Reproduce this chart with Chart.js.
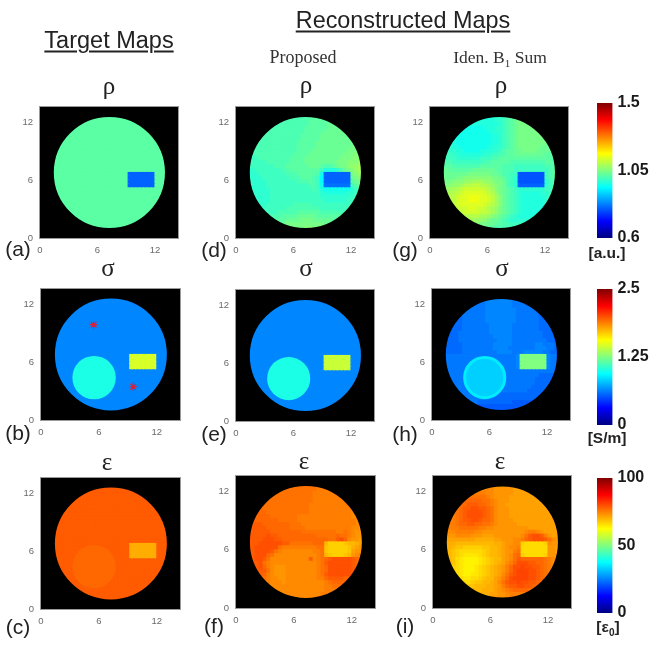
<!DOCTYPE html>
<html><head><meta charset="utf-8">
<script src="https://cdn.jsdelivr.net/npm/chart.js@4/dist/chart.umd.js"></script>
<style>
html,body{margin:0;padding:0;background:#fff;width:656px;height:648px;overflow:hidden}
canvas{position:absolute;filter:blur(.7px)}
canvas.bar{filter:blur(.45px)}
.t{position:absolute;transform:translate(-50%,-50%);white-space:nowrap;color:#222;font-family:"Liberation Sans",sans-serif;filter:blur(.3px)}
</style></head><body>
<script>
const tickValues=[0,6,12];
const LEVELS='0123456789abcdefghijklmnopqrstuvwxyz';
const rhoRange=[0.6,1.5], sigmaRange=[0,2.5], epsRange=[0,100];
// value of level 0 and level z per quantity
const rhoLevels=[0.735,1.185], sigmaLevels=[0.25,1.5], epsLevels=[50,90];
const rhoBarTicks=[0.6,1.05,1.5], sigmaBarTicks=[0,1.25,2.5], epsBarTicks=[0,50,100];
const redStars=[{x:5.45,y:9.9},{x:9.55,y:3.45}];
const diskCentre={x:7.24,y:6.8}, diskRadius=5.8;
const inclusionCentre={x:5.5,y:4.4}, inclusionRadius=2.25;

const rhoTarget=Array(15).fill('mmmmmmmmmmmmmmmmmmmmmmmmmmmmmm').concat(
 Array(4).fill('mmmmmmmmmmmmmmmmmmmm5555555mmm'),Array(11).fill('mmmmmmmmmmmmmmmmmmmmmmmmmmmmmm'));
const rhoProposed=[
'llllllllllllllllmmmmmmnnnnnnnn','llllllllllllllllmmmmmmnnnnnnnn','llllllllllllllllmmmmmnnnnnnnnn','lllllllllllllllmmmmmmnnnnnnnnn',
'lllllllllllllllmmmmmnnnnnnnnnn','llllllllllllllmmmmmnnnnnnnnnnn','llllllllllllllmmmmmnnnnnnnnnnn','lllllllllllllmmmmmnnnnnnnnnnoo',
'lllllllllllllmmmmmnnnnnnnnnooo','lllllllllllllmmmmnnnnnnnnnoooo','kkllllllllllmmmmnnnnnnnnnooopp','kkkllllllllmmmmnnnnnnnnnoooppp',
'kkkkkllllllmmmmnnnnnnnnooopppq','kkkkkkklllmmmmmmnnnmllmnoopqqr','jjkkkkkkkllmmmmmmmmkiiijlnopqr','jjjkkkkkkklllmmmmmlh5555555opq',
'jjjjkkkkkkklllmmmlkg5555555nop','jjjjjkkkkkkkklllmlkg5555555mno','jjjjjkkkkkkkkkkkllkh6666666kmn','jjjjjjkkkkkkkkkkklkihhhhhhhjkl',
'jjjjjjkkkkkkkkkkkkkjiiiiiijjkl','jjjjjjkkkkkkkkkkkkkjjjjjjjjkkl','jjjjjjkkkkkkkkkkkkkkjjjjjjkkll','jjjjjkkkkkkklllllkkkkkkkkkkkll',
'jjjjkkkkkklllllllllkkkkkkkllmm','jjjkkkkklllllmmmmmmllllllllmmm','jkkkkllllmmmmnnnnnmmmmmmmmmmmm','kkkkllmmmmnnnnooonnnnnmmmmmmmm',
'kkllmmmnnnoooooooooonnnnnmmmmm','kllmmnnnoooooooppooooonnnnmmmm'];
const rhoIden=[
'jjjjjjjjjiiiiijjklmnnnnnnnnnnn','jjjjjjjiiiiiiijjklmnooooonnnnn','kjjjjiiiiiiiiiijklmnoooooonnnn','kjjiiihhhhhiiijjklmnoooooonnnn',
'kjjiihhhhhhhiijjklmnooooooonnn','kjjihhhhhhhhhiijklmnoooooooonn','kjjihhhhhhhhhiijklmnoooooooonn','kjjihhhhhhhhhiijklmnoooooooonn',
'kjjiihhhhhhhiijjklmnoooooonnnn','kkjjiihhhhiiijjklmmnnoooonnnnm','kkkjjiiiiiijjkkllmmnnnnnnnnmmm','lkkkjjjjjjkkkllmmmmmmmmmmmmmmm',
'mllkkkkkkkkllmmmmmlllllllllmmm','mmmlllllllmmmmmmlllkkkkkkkkllm','nnmmmmmmnnnnnnmmlllkkkkkkkkklm','nnnnnnnoooooonnmllkk4444444klm',
'onnnoopppppppoonmlkj4444444klm','ooopppqqrrrqqpoonlkj4444444jkl','pppqqrssttssrqponlkj5555555jkl','qqrrstuuuuutsrponmlkjjjjjjjkkl',
'rrsstuvvvvvutsqonmlkjiiiiijjkl','rrstuvvwwwvvutrpnmlkjiiiiiijkl','rrstuvvwwwvvutrpnmlkjiiiiiijkl','rsstuvvvvvvutsrpnmlkjiiiiiijkl',
'rrsstuuvvuutsrqonmlkjiiiiiijkl','rrrsstuuuuttsrqonmlkjiiiiiijkl','qqrrrsssssrrqponmlkjiiiiiiijkl','ppqqqrrrrqqponnmlkjjjjjjjjkkll',
'ooppqqqqppoonnmmllkkkkkkkkklll','ooppppoonnmmmmllllllllllllllll'];
const sigmaTarget=[...Array(15).fill('bbbbbbbbbbbbbbbbbbbbbbbbbbbbbb'),
'bbbbbbbbbbbbbbbbbbbbyyyyyyybbb','bbbbbbbbbllllbbbbbbbyyyyyyybbb','bbbbbbblllllllbbbbbbyyyyyyybbb','bbbbbbbllllllllbbbbbyyyyyyybbb',
'bbbbbblllllllllbbbbbbbbbbbbbbb','bbbbbbllllllllllbbbbbbbbbbbbbb','bbbbbbllllllllllbbbbbbbbbbbbbb','bbbbbblllllllllbbbbbbbbbbbbbbb',
'bbbbbbbllllllllbbbbbbbbbbbbbbb','bbbbbbblllllllbbbbbbbbbbbbbbbb','bbbbbbbbbllllbbbbbbbbbbbbbbbbb',
...Array(4).fill('bbbbbbbbbbbbbbbbbbbbbbbbbbbbbb')];
const sigmaProposed=[...Array(15).fill('bbbbbbbbbbbbbbbbbbbbbbbbbbbbbb'),
'bbbbbbbbbbbbbbbbbbbbxxxxxxxbbb','bbbbbbbbbllllbbbbbbbxxxxxxxbbb','bbbbbbblllllllbbbbbbxxxxxxxbbb','bbbbbbbllllllllbbbbbxxxxxxxbbb',
'bbbbbblllllllllbbbbbbbbbbbbbbb','bbbbbbllllllllllbbbbbbbbbbbbbb','bbbbbbllllllllllbbbbbbbbbbbbbb','bbbbbblllllllllbbbbbbbbbbbbbbb',
'bbbbbbbllllllllbbbbbbbbbbbbbbb','bbbbbbblllllllbbbbbbbbbbbbbbbb','bbbbbbbbbllllbbbbbbbbbbbbbbbbb',
...Array(4).fill('bbbbbbbbbbbbbbbbbbbbbbbbbbbbbb')];
const sigmaIden=[
'999999aaaaabbbbbbaaaaaaa999999','999999aaaaabbbbbbbaaaaaa999999','999999aaaaabbbbbbbaaaaaa999999','99999aaaaaabbbbbbbbaaaaa999999',
'99999aaaaaabbbbbbbbaaaaaa99999','99999aaaaaabbbbbbbbaaaaaa99999','99999aaaaaabbbbbbbbaaaaaa99999','99999aaaaaaabbbbbbaaaaaaa99999',
'99999aaaaaaabbbbbbaaaaaaa99999','9999aaaaaaaabbbbbbaaaaaaaa9999','9999aaaaaaaaabbbbbaaaaaaaa9999','9999aaaaaaaaaabbbbaaaaaaaaa999',
'99999aaaaaaaabbbbbaaaaaabbaaa9','99999aaaaaaaabbbbaaaaaaabbbaa9','99999aaaaaaaaabbbbaaabbbbbaa99','aaaaaaaaaaaaaaaaaaabsssssssbaa',
'aaaaaaaaaggggaaaaaabsssssssbaa','aaaaaaagggggggaaaaabsssssssbaa','aaaaaaaggggggggaaaabsssssssbaa','aaaaaagggggggggaaaaaaaaaaaaaaa',
'aaaaaaggggggggggaaaaaaaaa99999','aaaaaaggggggggggaaaaaaaa999999','aaaaaagggggggggaaaaaaaaa999999','aaaaaaaggggggggaaaaaaaa9999999',
'aaaaaaagggggggaaaaaaaa99999999','aaaaaaaaagggg99999999999999999','aaaaaaaaaaaa999999999999999999','aaaaaaaaa999999999888888888888',
'999999999888888888888888888888','999999988888888888888888888888'];
const epsTarget=sigmaTarget.map(r=>r.replace(/b/g,'p').replace(/l/g,'o').replace(/y/g,'i'));
const epsProposed=[
'oooonnnnnnnnnnnnnnmmmmmmmmmmmm','oooonnnnnnnnnnnnnnmmmmmmmmmmmm','ooonnnnnnnnnnnnnnmmmmmmmmmmmmm','ooonnnnnnnnnnnnnnmmmmmmmmmmmml',
'oooonnnnnnnnnnnnnmmmmmmmmmmmll','oooonnnnnnnnnnnnmmmmmmmmmmmmll','oooonnnnnnnnnnnnmmmmmmmmmmmlll','ooooonnnnnnnnnnnmmmmmmmmmmmlll',
'pooooonnnnnnnmmmmmmmmmmmmmmlll','ppoooooonnnnnmmmmmmmmmmmmmmmll','ppppooooooonnnmmmmmmmmmmmmmmll','pppppoooooonnnnmmmmmmmmmmmmllk',
'ppppppoooooooonnnnnnnnnmmnmlkk','pppppqppoooooooooonnnnnonnmlkk','ppppqqqppoooooooooooonnpqolkkj','pppqqqqqqppnnnnnnooohffffghhij',
'ppqqqqqqnmmmmmmmmmnngfffffgijk','ppqqqqpnmllllllllmmngfffffgjkk','ppqqqonlllllllllllmnhgfffghklm','ppqqpnllllllllllplmnopqqqqqpon',
'pppqnmllllllllllllmnpqqqqqqpon','pppqomlkkkllllllllmnoqqqqqqpoo','pppppnlkkkllllllllmnoqqqqqqpoo','ppppomlkkkllllllllmnpqqqqqqpoo',
'oooonmllkkllllllllmmoppppooonn','ooonmmlllkllllllllllmnooooonnn','nnnmmlllllllllllllllmmnnnnnnnn','nnmmmlllllllllllllllmmmmmnnnnn',
'mmmmmllllllllllllllmmmmmmmmmmm','mmmmmllllllllllllllmmmmmmmmmmm'];
const epsIden=[
'mmmmllllllllllkkkkkjjjjjjjjjjj','mmmmmmlllllllkkkkkjjjjjjjjjjjj','mmmmmmmmmmmllkkkkkjjjjjjjjjjjj','lmmmmnnnnnnmlkkkkjjjjjjjjjjjjj',
'lmmmnooooonnmlkkkjjjjjjjjjjjjj','lmmnoopppoonmlkkjjjjjjjjjjjjjj','lmmnoppqqpponlkkkjjjjjjjjjjjjj','lmmnopqqqqponlkkkjjjjjjjjjjjjj',
'lmmnopqqqqponlkkkjjjjjjjjjjjjj','lmmnoppqqpoonlkkkkjjjjjjjjjjjj','lmmnooppoonnmlkkkkkjjjjjjjjjjj','lmmmnnnnnmmllkkkkkkkkkjjjjjjjj',
'lllmmmmmllkkkkkkkkkkklmmlkjjjj','kkkllllkkkjjjkkkkkkklnpqqpmkjj','jjjjjjjjiiiiijjkkkllmopqqqpnlk','iiihhhhhhhhhhiijkkllfeeeeeflkk',
'iihggfffffgghhijkllmeeeeeeekkj','ihgfeeeeeefghhijkkmneeeeeeekkj','ihgfeddddefghhijklnofeeeeefkkk','ihgedccccdefghhjklnpoooooonmlk',
'ihgedccccdefghijlmoqqqppoonmlk','ihfedcccdefghijkmoqqrqqpponmlk','ihfedcccdefghijkmoqrrrqqponmlk','ihgedccddefghijlnpqrrrqqponmll',
'ihgfeddeefghhjkmoqrrrrqqponmll','iihgfeefgghhijlnpqqrqqpponmmll','iihhgggghhhiijkmoppqqppoonmmll','iiihhhhhhhiiijklmnoooonnmmllll',
'iiiiiiiiiiiijjkklmmmmmmmllllll','jjjjjjjjjjjjkkkklllmmmmlllllll'];

// layout
const panels=[
 {box:[40,107,138,131],rows:rhoTarget,lv:rhoLevels,rg:rhoRange},
 {box:[236,107,138,131],rows:rhoProposed,lv:rhoLevels,rg:rhoRange},
 {box:[430,107,138,131],rows:rhoIden,lv:rhoLevels,rg:rhoRange},
 {box:[41,289,139,131],rows:sigmaTarget,lv:sigmaLevels,rg:sigmaRange,inc:'l',stars:true},
 {box:[236,290,138,131],rows:sigmaProposed,lv:sigmaLevels,rg:sigmaRange,inc:'l'},
 {box:[432,289,138,131],rows:sigmaIden,lv:sigmaLevels,rg:sigmaRange,inc:'g',incEdge:'i'},
 {box:[41,478,139,131],rows:epsTarget,lv:epsLevels,rg:epsRange,inc:'o'},
 {box:[236,476,139,132],rows:epsProposed,lv:epsLevels,rg:epsRange},
 {box:[433,476,138,132],rows:epsIden,lv:epsLevels,rg:epsRange}];

const JET=[[0,0,0,.5],[.125,0,0,1],[.375,0,1,1],[.625,1,1,0],[.875,1,0,0],[1,.5,0,0]];
function jet(t){t=Math.max(0,Math.min(1,t));
 for(let i=1;i<JET.length;i++){if(t<=JET[i][0]){const a=JET[i-1],b=JET[i],f=(t-a[0])/(b[0]-a[0]);
  return `rgb(${[1,2,3].map(k=>Math.round(255*(a[k]+(b[k]-a[k])*f))).join(',')})`;}}
 return 'rgb(128,0,0)';}
function mkCanvas(l,t,w,h,cls){const c=document.createElement('canvas');c.width=w;c.height=h;if(cls)c.className=cls;
 c.style.left=l+'px';c.style.top=t+'px';c.style.width=w+'px';c.style.height=h+'px';document.body.appendChild(c);return c;}
const noPad=s=>{s.paddingTop=s.paddingBottom=s.paddingLeft=s.paddingRight=0;};

const frame={id:'frame',
 beforeDatasetsDraw(ch){const a=ch.chartArea,c=ch.ctx;c.save();c.fillStyle='#000';c.fillRect(a.left,a.top,a.width,a.height);c.restore();},
 afterDatasetsDraw(ch){const a=ch.chartArea,c=ch.ctx;c.save();c.strokeStyle='#9a9a9a';c.lineWidth=1;c.strokeRect(a.left-.5,a.top-.5,a.width+1,a.height+1);c.restore();}};

panels.forEach(p=>{
 const [L,T,W,H]=p.box, lv=v=>p.lv[0]+LEVELS.indexOf(v)/35*(p.lv[1]-p.lv[0]);
 const col=v=>jet((v-p.rg[0])/(p.rg[1]-p.rg[0]));
 const cells=[];
 p.rows.forEach((r,ri)=>{[...r].forEach((ch,ci)=>{cells.push({x:1.4+.4*ci,y:12.6-.4*ri,v:lv(ch)});});});
 const pxU=c=>Math.abs(c.chart.scales.x.getPixelForValue(1)-c.chart.scales.x.getPixelForValue(0));
 const ds=[];
 if(p.stars)ds.push({data:redStars,pointStyle:'star',pointRadius:4,pointBorderWidth:1.2,pointBorderColor:'#d8203c',pointBackgroundColor:'#d8203c',clip:0});
 ds.push({data:[diskCentre],pointStyle:'circle',clip:0,pointBackgroundColor:'rgba(0,0,0,0)',pointBorderColor:'#000',pointBorderWidth:60,
  pointRadius:c=>diskRadius*pxU(c)+30});
 if(p.inc)ds.push({data:[{...inclusionCentre,v:lv(p.inc)}],pointStyle:'circle',clip:0,
  pointBorderWidth:p.incEdge?3:0,pointBorderColor:p.incEdge?col(lv(p.incEdge)):'rgba(0,0,0,0)',
  pointBackgroundColor:col(lv(p.inc)),pointRadius:c=>inclusionRadius*pxU(c)-(p.incEdge?1.5:0)});
 ds.push({data:cells,pointStyle:'rect',clip:0,pointBorderWidth:0,
  pointBackgroundColor:c=>c.raw?col(c.raw.v):'#000',
  pointRadius:c=>.4*pxU(c)/Math.SQRT2*1.3});
 const axis=(max,fit)=>({type:'linear',min:0,max,
   afterBuildTicks:s=>{s.ticks=tickValues.map(v=>({value:v}));},afterFit:s=>{fit(s);noPad(s);},
   grid:{display:false,drawTicks:false},border:{display:false},
   ticks:{autoSkip:false,maxRotation:0,color:'#6a6a6a',padding:7,font:{family:'Liberation Sans',size:9.5}}});
 new Chart(mkCanvas(L-30,T-8,W+38,H+32),{type:'scatter',data:{datasets:ds},plugins:[frame],options:{
  responsive:false,animation:false,events:[],devicePixelRatio:1,
  layout:{padding:{top:8,right:8,left:0,bottom:0}},
  plugins:{legend:{display:false},tooltip:{enabled:false}},
  scales:{x:axis(14.4,s=>{s.height=24;}),y:axis(13.6,s=>{s.width=30;})}}});
});

// colour bars
[[597,103,135,rhoRange,rhoBarTicks,v=>String(v)],
 [597,289,136,sigmaRange,sigmaBarTicks,v=>String(v)],
 [597,478,135,epsRange,epsBarTicks,v=>String(v)]].forEach(([L,T,H,rg,tk,fmt])=>{
 new Chart(mkCanvas(L,T-12,59,H+24,'bar'),{type:'bar',data:{labels:[''],datasets:[{data:[[rg[0],rg[1]]],barPercentage:1,categoryPercentage:1,
   backgroundColor:c=>{const a=c.chart.chartArea;if(!a)return '#000';const g=c.chart.ctx.createLinearGradient(0,a.bottom,0,a.top);
     JET.forEach(s=>g.addColorStop(s[0],`rgb(${Math.round(s[1]*255)},${Math.round(s[2]*255)},${Math.round(s[3]*255)})`));return g;}}]},
  options:{responsive:false,animation:false,events:[],devicePixelRatio:1,layout:{padding:{top:12,bottom:12}},
   plugins:{legend:{display:false},tooltip:{enabled:false}},
   scales:{x:{display:false},y:{type:'linear',position:'right',min:rg[0],max:rg[1],
    afterBuildTicks:s=>{s.ticks=tk.map(v=>({value:v}));},afterFit:s=>{s.width=43.5;noPad(s);},
    grid:{display:false,drawTicks:false},border:{display:false},
    ticks:{autoSkip:false,padding:5,color:'#1a1a1a',callback:fmt,font:{family:'Liberation Sans',size:16,weight:'bold'}}}}}});
});

// text
const labels=[
 ['Target Maps',109,40,'font-size:23.5px;text-decoration:underline;text-decoration-thickness:2px;text-underline-offset:3px'],
 ['Reconstructed Maps',403,20,'font-size:23.4px;text-decoration:underline;text-decoration-thickness:2px;text-underline-offset:3px'],
 ['Proposed',303,57,'font-family:Liberation Serif;font-size:18px;color:#333'],
 ['Iden. B<sub style="font-size:11px">1</sub> Sum',500,58,'font-family:Liberation Serif;font-size:17.5px;color:#333'],
 ['ρ',109,86],['ρ',306,85],['ρ',501,85],['σ',108,268],['σ',306,268],['σ',502,268],['ε',107,462],['ε',304,461],['ε',500,461],
 ['(a)',18,249,'font-size:21px'],['(d)',214,250,'font-size:21px'],['(g)',405,250,'font-size:21px'],
 ['(b)',18,433,'font-size:21px'],['(e)',214,434,'font-size:21px'],['(h)',405,434,'font-size:21px'],
 ['(c)',18,627,'font-size:21px'],['(f)',214,626,'font-size:21px'],['(i)',405,626,'font-size:21px'],
 ['[a.u.]',607,253,'font-size:15.5px;font-weight:bold'],['[S/m]',607,438,'font-size:15.5px;font-weight:bold'],
 ['[ε<sub style="font-size:10px">0</sub>]',608,628,'font-size:15.5px;font-weight:bold']];
labels.forEach(([s,x,y,st])=>{const d=document.createElement('div');d.className='t';d.innerHTML=s;
 d.style.cssText=`left:${x}px;top:${y}px;`+(st||'font-size:25px;font-family:Liberation Serif');document.body.appendChild(d);});
</script></body></html>
